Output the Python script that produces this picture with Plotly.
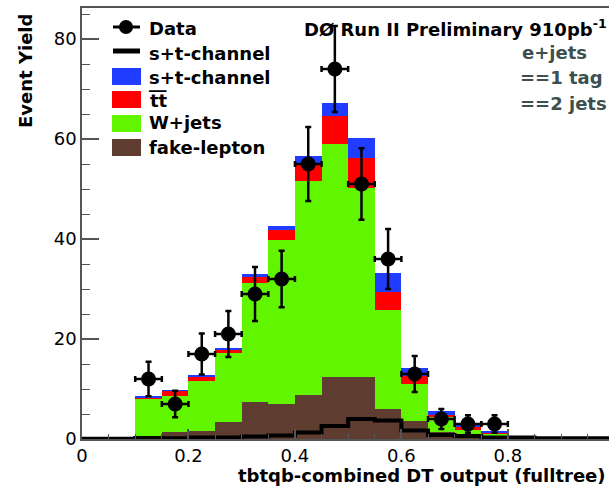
import numpy as np
import plotly.graph_objects as go

# ---- data ----
bin_edges = [round(0.05 * i, 2) for i in range(21)]          # 0.00 ... 1.00
bin_centers = [round(0.025 + 0.05 * i, 3) for i in range(20)]

# stacked components per bin (0.00-0.05 ... 0.95-1.00)
fake_lepton = [0, 0, 0, 1.4, 1.7, 3.5, 7.5, 7.0, 8.9, 12.5, 12.5, 6.1, 3.7, 1.4, 0.8, 0.4, 0, 0, 0, 0]
wjets       = [0, 0, 8.0, 7.2, 10.0, 13.8, 23.8, 32.8, 42.7, 46.6, 37.7, 19.7, 7.4, 3.0, 1.0, 0.7, 0, 0, 0, 0]
ttbar       = [0, 0, 0.3, 1.0, 0.8, 0.5, 1.2, 2.1, 3.7, 5.6, 6.1, 3.7, 1.5, 0.5, 0.7, 0.2, 0, 0, 0, 0]
signal      = [0.05, 0.05, 0.2, 0.15, 0.3, 0.3, 0.5, 0.7, 1.3, 2.6, 4.0, 3.7, 1.7, 0.8, 0.6, 0.3, 0.3, 0.15, 0.15, 0.15]

data_x = [0.125, 0.175, 0.225, 0.275, 0.325, 0.375, 0.425, 0.475, 0.525, 0.575, 0.625, 0.675, 0.725, 0.775]
data_y = [12, 7, 17, 21, 29, 32, 55, 74, 51, 36, 13, 4, 3, 3]
data_xerr = [0.025] * len(data_x)

x_tickvals = [0, 0.2, 0.4, 0.6, 0.8]
x_ticktext = ["0", "0.2", "0.4", "0.6", "0.8"]
y_tickvals = [0, 20, 40, 60, 80]
y_ticktext = ["0", "20", "40", "60", "80"]

legend_labels = ["Data", "s+t-channel", "s+t-channel", "t\u0305t\u0305", "W+jets", "fake-lepton"]

FONT = "DejaVu Sans"
TXT = dict(family=FONT, size=18, color="black")
AXC = "#555555"
C_FAKE, C_W, C_TT, C_SIG = "#5e3c30", "#62f500", "#ff0000", "#1f3cff"

fig = go.Figure()

stack = [
    ("fake-lepton", fake_lepton, C_FAKE),
    ("W+jets", wjets, C_W),
    ("ttbar", ttbar, C_TT),
    ("s+t-channel", signal, C_SIG),
]
for name, vals, col in stack:
    fig.add_trace(go.Bar(
        x=bin_centers, y=vals, width=0.05, name=name, showlegend=False,
        marker=dict(color=col, line=dict(width=0)),
    ))

# signal-only outline (step histogram)
fig.add_trace(go.Scatter(
    x=bin_edges, y=signal + [signal[-1]], mode="lines", line_shape="hv",
    line=dict(color="black", width=4), name="s+t-channel", showlegend=False,
))

# data points with errors
fig.add_trace(go.Scatter(
    x=data_x, y=data_y, mode="markers", name="Data", showlegend=False,
    marker=dict(color="black", size=15, symbol="circle"),
    error_y=dict(type="data", array=list(np.sqrt(data_y)), color="black", thickness=2.5, width=3),
    error_x=dict(type="data", array=data_xerr, color="black", thickness=2.5, width=3),
))

L, R, T, B = 82, 0, 8, 48
W, H = 609, 487
pw, ph = W - L - R, H - T - B

def px(x):
    return (x - L) / pw

def py(y):
    return (H - B - y) / ph

fig.update_layout(
    width=W, height=H,
    margin=dict(l=L, r=R, t=T, b=B),
    paper_bgcolor="white", plot_bgcolor="white",
    barmode="stack",
    showlegend=False,
    xaxis=dict(range=[0, 0.99], tickmode="array", tickvals=x_tickvals, ticktext=x_ticktext,
               ticks="inside", ticklen=10, tickwidth=1.5, tickcolor=AXC,
               minor=dict(dtick=0.05, ticks="inside", ticklen=5, tickcolor=AXC, tickwidth=1),
               showline=True, linecolor=AXC, linewidth=1.5, mirror=True,
               showgrid=False, zeroline=False, ticklabelstandoff=0,
               tickfont=dict(family=FONT, size=18, color="black"), tickprefix="<b>", ticksuffix="</b>"),
    yaxis=dict(range=[0, 86.2], tickmode="array", tickvals=y_tickvals, ticktext=y_ticktext,
               ticks="inside", ticklen=17, tickwidth=1.5, tickcolor=AXC,
               minor=dict(dtick=5, ticks="inside", ticklen=8, tickcolor=AXC, tickwidth=1),
               showline=True, linecolor=AXC, linewidth=1.5, mirror=False,
               showgrid=False, zeroline=False, ticklabelstandoff=0,
               tickfont=dict(family=FONT, size=18, color="black"), tickprefix="<b>", ticksuffix="</b>"),
)

# ---- legend drawn as shapes + text (top-left of the frame) ----
shapes = []
def pline(x0, y0, x1, y1, color, width):
    shapes.append(dict(type="line", xref="paper", yref="paper", x0=px(x0), y0=py(y0), x1=px(x1), y1=py(y1),
                       line=dict(color=color, width=width)))

def prect(x0, y0, x1, y1, color):
    shapes.append(dict(type="rect", xref="paper", yref="paper", x0=px(x0), y0=py(y0), x1=px(x1), y1=py(y1),
                       fillcolor=color, line=dict(width=0)))

pline(113, 27, 140, 27, "black", 3)
shapes.append(dict(type="circle", xref="paper", yref="paper", x0=px(119), x1=px(133), y0=py(20), y1=py(34),
                   fillcolor="black", line=dict(width=0)))
pline(113, 51, 140, 51, "black", 5)
prect(112, 68, 141, 85, C_SIG)
prect(112, 91, 141, 108, C_TT)
prect(112, 115, 141, 132, C_W)
prect(112, 139, 141, 156, C_FAKE)
fig.update_layout(shapes=shapes)

ann = []
for lab, yy in zip(legend_labels, [28, 53, 77, 100, 123, 147]):
    ann.append(dict(text=f"<b>{lab}</b>", x=px(147), y=py(yy), xref="paper", yref="paper",
                    xanchor="left", yanchor="middle", showarrow=False, font=TXT))
ann.append(dict(text="<b>D\u00d8 Run II Preliminary 910pb<sup>-1</sup></b>", x=px(302), y=py(28),
                xref="paper", yref="paper", xanchor="left", yanchor="middle", showarrow=False, font=TXT))
grey = dict(family=FONT, size=18, color="#3d4f4f")
for t, yy, xx in [("e+jets", 52, 520), ("==1 tag", 77, 518), ("==2 jets", 103, 518)]:
    ann.append(dict(text=f"<b>{t}</b>", x=px(xx), y=py(yy), xref="paper", yref="paper",
                    xanchor="left", yanchor="middle", showarrow=False, font=grey))
ann.append(dict(text="<b>Event Yield</b>", x=px(25), y=py(71), xref="paper", yref="paper",
                xanchor="center", yanchor="middle", textangle=-90, showarrow=False, font=TXT))
ann.append(dict(text="<b>tbtqb-combined DT output (fulltree)</b>", x=px(236), y=py(475),
                xref="paper", yref="paper", xanchor="left", yanchor="middle", showarrow=False, font=TXT))
fig.update_layout(annotations=ann)

fig.write_html("out.html")
